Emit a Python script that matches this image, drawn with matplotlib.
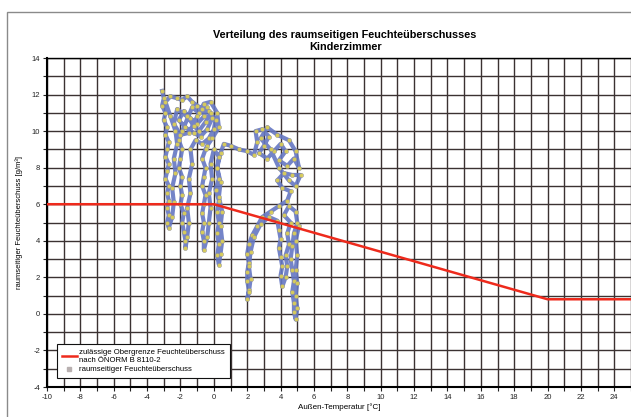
import matplotlib
matplotlib.use('Agg')
import matplotlib.pyplot as plt
from matplotlib.lines import Line2D
from matplotlib.patches import Rectangle
from matplotlib.ticker import MultipleLocator

OUTPUT_FILE = 'out.png'

TITLE = 'Verteilung des raumseitigen Feuchteüberschusses\nKinderzimmer'
X_LABEL = 'Außen-Temperatur [°C]'
Y_LABEL = 'raumseitiger Feuchteüberschuss [g/m³]'
LIMIT_LABEL = 'zulässige Obergrenze Feuchteüberschuss\nnach ÖNORM B 8110-2'
SERIES_LABEL = 'raumseitiger Feuchteüberschuss'

# limit curve (ÖNORM B 8110-2)
LIMIT_TEMP = [-10, 0, 20, 26]
LIMIT_MOIST = [6.0, 6.0, 0.8, 0.8]

# measured values, in time order
OUTDOOR_TEMP = [
    -3.1, -3.0, -3.1, -2.9, -3.0, -2.8, -2.9, -2.7, -2.8, -2.9, -2.7, -2.8, -2.9, -2.7,
    -2.8, -2.7, -2.8, -2.7, -2.8, -2.7,
    -2.5, -2.4, -2.5, -2.3, -2.4, -2.2, -2.3,
    -2.6, -2.9, -2.6, -2.2, -1.9, -1.6, -1.3, -1.0, -0.7, -0.4,
    -0.6, -1.0, -1.4, -1.8, -2.1, -1.7, -1.2, -0.8, -0.4, -0.1, -0.3, -0.9, -1.3,
    -1.9, -2.1, -1.9, -2.0, -2.1, -1.9, -2.0, -1.9, -2.0, -1.8, -1.9, -1.8, -1.7, -1.7,
    -1.6, -1.5, -1.6, -1.4, -1.5, -1.3, -1.4, -1.1,
    -0.7, -0.3, 0.0, 0.1, -0.2, -0.5, -0.9,
    -1.2, -1.6, -2.2, -2.4, -2.0, -1.5, -1.0, -0.6, -0.2, 0.2, 0.3, -0.1, -0.4,
    -0.5, -0.7, -0.5, -0.6, -0.7, -0.5, -0.6, -0.7, -0.6, -0.7, -0.6, -0.6,
    -0.4, -0.3, -0.2, -0.3, -0.1, -0.2, 0.0,
    0.3, 0.2, 0.3, 0.1, 0.3, 0.2, 0.3, 0.2, 0.3, 0.2, 0.3,
    0.4, 0.5, 0.4, 0.5, 0.3, 0.4, 0.2, 0.4, 0.6,
    1.0, 1.5, 2.0, 2.4,
    2.6, 2.5, 2.9, 3.3, 3.0, 2.7, 3.2, 3.6, 4.0, 4.3, 3.9, 4.4, 4.8, 5.1,
    4.9, 4.5, 3.8, 3.2, 2.8, 3.4, 3.9, 4.5, 4.9, 5.2,
    4.7, 4.2, 3.8, 4.1, 4.6, 4.4, 3.9, 3.4, 2.9,
    2.6, 2.3, 2.1, 2.0, 2.1, 2.0, 2.0, 2.1, 2.0,
    2.1, 2.2, 2.1, 2.2, 2.4, 2.8, 3.3, 3.8,
    3.9, 4.0, 3.9, 4.0, 4.1, 4.0, 4.1, 4.3, 4.4, 4.3, 4.5, 4.4, 4.6, 4.2, 4.5, 4.9, 5.0,
    4.8, 4.7, 4.6, 4.7, 4.8, 4.7, 4.8, 4.8, 4.9, 5.0, 4.9, 5.0, 4.9, 5.0, 4.9, 5.1,
]
MOISTURE_EXCESS = [
    12.2, 11.8, 11.4, 11.0, 10.6, 10.2, 9.8, 9.4, 9.0, 8.6, 8.2, 7.8, 7.4, 7.0,
    6.6, 6.2, 5.8, 5.4, 5.0, 4.7,
    5.3, 6.1, 6.9, 7.7, 8.5, 9.3, 10.0,
    10.8, 11.6, 11.9, 11.8, 11.7, 11.9, 11.6, 11.4, 11.2, 11.3,
    10.8, 10.4, 10.7, 11.1, 10.6, 10.2, 9.9, 9.7, 10.1, 10.7, 11.1, 11.0, 11.3,
    10.0, 9.5, 9.0, 8.5, 8.0, 7.5, 7.0, 6.5, 6.0, 5.5, 5.0, 4.5, 4.0, 3.6,
    4.2, 5.0, 5.8, 6.6, 7.4, 8.2, 9.0, 9.5,
    9.3, 9.6, 10.1, 10.6, 11.0, 10.5, 10.0,
    10.3, 10.8, 11.2, 10.4, 9.8, 9.9, 10.8, 11.5, 11.6, 11.0, 10.2, 9.6, 9.2,
    9.0, 8.5, 8.0, 7.5, 7.0, 6.5, 6.0, 5.5, 5.0, 4.5, 4.0, 3.5,
    4.2, 5.0, 5.8, 6.6, 7.4, 8.2, 9.0,
    8.6, 8.0, 7.4, 6.8, 6.2, 5.6, 5.0, 4.4, 3.8, 3.2, 2.7,
    3.3, 4.0, 4.8, 5.6, 6.4, 7.2, 8.0, 8.8, 9.3,
    9.2, 9.0, 8.9, 8.7,
    9.4, 10.0, 10.1, 9.7, 9.2, 8.8, 8.5, 8.9, 9.3, 8.9, 8.4, 8.1, 8.5, 8.0,
    8.9, 9.5, 9.8, 10.2, 9.6, 9.0, 8.0, 7.3, 7.0, 7.6,
    7.6, 7.7, 7.3, 6.9, 6.7, 6.2, 5.9, 5.6, 5.3,
    4.8, 4.3, 3.8, 3.3, 2.8, 2.3, 1.8, 1.3, 0.8,
    1.2, 1.9, 2.6, 3.4, 4.2, 4.9, 5.3, 5.1,
    4.6, 4.1, 3.6, 3.1, 2.6, 2.1, 1.5, 2.0, 2.6, 3.2, 3.8, 4.4, 5.0, 5.4, 5.9, 5.6, 5.0,
    4.4, 3.7, 3.0, 2.4, 1.8, 1.2, 0.6, 0.1, -0.3, 0.3, 1.0, 1.7, 2.4, 3.2, 4.0, 4.8,
]

X_TICKS = list(range(-10, 26, 2))
Y_TICKS = list(range(-4, 15, 2))


def plot():
    plt.rcParams['font.family'] = ['Liberation Sans', 'DejaVu Sans']
    plt.rcParams['axes.unicode_minus'] = False
    fig = plt.figure(figsize=(6.31, 4.17), dpi=100)
    ax = fig.add_axes([47 / 631, 1 - 387 / 417, 584 / 631, 329 / 417])

    # grey frame around the whole chart
    fig.patches.append(Rectangle((7 / 631, -0.05), 1.0, 1 - 12 / 417 + 0.05,
                                 transform=fig.transFigure, fill=False,
                                 edgecolor='#8a8a8a', linewidth=1.0))

    ax.set_xlim(-10, 25)
    ax.set_ylim(-4, 14)
    ax.xaxis.set_minor_locator(MultipleLocator(1))
    ax.yaxis.set_minor_locator(MultipleLocator(1))
    ax.set_xticks(X_TICKS)
    ax.set_yticks(Y_TICKS)

    ax.grid(which='both', color='#3b3232', linewidth=1.0)
    ax.set_axisbelow(True)
    ax.tick_params(which='both', direction='out', length=3, width=0.8,
                   labelsize=5.5, colors='#222222', pad=2)

    ax.spines['right'].set_visible(False)
    for side in ('left', 'bottom'):
        ax.spines[side].set_linewidth(1.5)
    ax.spines['top'].set_linewidth(1.0)

    ax.plot(OUTDOOR_TEMP, MOISTURE_EXCESS, color='#6577c2', linewidth=3.0,
            alpha=0.9, marker='o', markersize=3.0, markerfacecolor='#e2d450',
            markeredgecolor='#9090a0', markeredgewidth=0.4, zorder=3)
    ax.plot(LIMIT_TEMP, LIMIT_MOIST, color='#ee2a1c', linewidth=1.8, zorder=4)

    ax.set_xlabel(X_LABEL, fontsize=5.8, labelpad=2)
    ax.set_ylabel(Y_LABEL, fontsize=5.5, labelpad=6)

    fig.text(0.547, 1 - 41 / 417, TITLE, ha='center', va='center',
             fontsize=7.8, fontweight='bold', linespacing=1.2)

    handles = [
        Line2D([], [], color='#ee2a1c', linewidth=1.8),
        Line2D([], [], linestyle='none', marker='s', markersize=3,
               markerfacecolor='#b8b0b0', markeredgecolor='#b8b0b0'),
    ]
    leg = ax.legend(handles, [LIMIT_LABEL, SERIES_LABEL], loc='lower left',
                    bbox_to_anchor=(0.017, 0.027), borderaxespad=0,
                    fontsize=5.6, frameon=True, fancybox=False,
                    handlelength=2.0, handletextpad=0.3, labelspacing=0.25,
                    borderpad=0.6)
    leg.get_frame().set_edgecolor('#111111')
    leg.get_frame().set_linewidth(0.8)
    leg.get_frame().set_alpha(1)

    plt.savefig(OUTPUT_FILE, dpi=100)


if __name__ == '__main__':
    plot()
